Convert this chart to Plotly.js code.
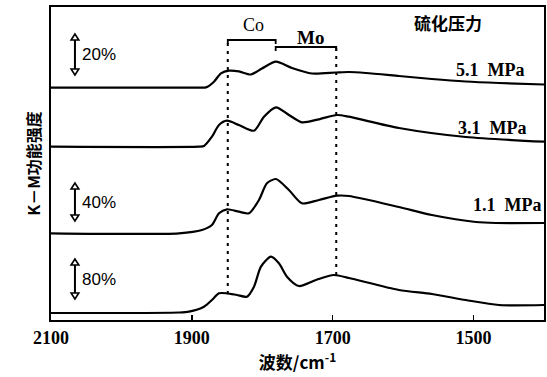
<!DOCTYPE html>
<html>
<head>
<meta charset="utf-8">
<script src="https://cdn.plot.ly/plotly-3.0.1.min.js"></script>
<style>html,body{margin:0;padding:0;background:#fff;}#chart{width:547px;height:377px;}</style>
</head>
<body>
<div id="chart"></div>
<script>
// Wavenumbers (cm^-1) and K-M intensities (arbitrary units, stacked)
const wn51 = [2100, 1890, 1880, 1868.6, 1858.7, 1847.3, 1833.1, 1816.1, 1800.5, 1780.6, 1757.9, 1729.5, 1695.4, 1677, 1652.9, 1606, 1559.2, 1511, 1464, 1400];
const km51 = [232.3, 232.3, 232.6, 238.3, 246.7, 249.3, 248.6, 245.5, 251.5, 258.3, 252, 246.5, 247.5, 248, 247, 244, 241, 238.5, 237, 235.5];

const wn31 = [2100, 1890, 1882.8, 1871.5, 1861.5, 1850.2, 1833.1, 1811.8, 1797.6, 1780.6, 1762.2, 1743.7, 1719.6, 1694, 1677, 1606, 1511, 1400];
const km31 = [173.3, 173.3, 174, 183.3, 195, 199.3, 195, 189.3, 203.3, 212.7, 205, 197.7, 200.7, 205, 203.3, 192, 183, 178.3];

const wn11 = [2100, 1918.3, 1885.7, 1871.5, 1861.5, 1850.2, 1833.1, 1818.9, 1804.7, 1793.4, 1780.6, 1762.2, 1743.7, 1719.6, 1694, 1677, 1606, 1559.2, 1496.7, 1468.3, 1400];
const km11 = [86.7, 86.7, 90, 95, 106.7, 110.7, 108.3, 106.7, 120, 136.7, 141, 130, 116.7, 120, 124.3, 124, 113, 105, 98, 97, 97];

const wn01 = [2100, 1918.3, 1904.1, 1882.8, 1871.5, 1861.5, 1850.2, 1836, 1821.8, 1811.8, 1801.9, 1787.7, 1776.4, 1765, 1748, 1723.8, 1698.3, 1677, 1606, 1559.2, 1511, 1464, 1400];
const km01 = [7, 7.5, 8.3, 13.3, 20, 26.7, 26.7, 25, 23.3, 33.3, 53.3, 63.3, 56.7, 43.3, 34, 40, 45, 42, 30, 26, 20, 15, 15];

const pressureLabels = ['5.1\u00a0\u00a0MPa', '3.1\u00a0\u00a0MPa', '1.1\u00a0\u00a0MPa', '0.1\u00a0\u00a0MPa'];
const tickValues = [2100, 1900, 1700, 1500];
const tickLabels = ['2100', '1900', '1700', '1500'];

// reference positions of the Co / Mo bands
const bandLines = [1849, 1695];
const bandLineTop = [280, 273];
const bandLineBottom = [26, 45];
const coBracket = [1849, 1781];
const moBracket = [1781, 1695];

// scale bars
const scaleX = 2066;
const scaleLabels = ['20%', '40%', '80%'];
const scaleTop = [286, 137, 61];
const scaleBottom = [245, 99, 21];

const lineStyle = {color: '#000', width: 2.2};
const traces = [
  {x: wn51, y: km51, name: pressureLabels[0]},
  {x: wn31, y: km31, name: pressureLabels[1]},
  {x: wn11, y: km11, name: pressureLabels[2]},
  {x: wn01, y: km01, name: pressureLabels[3]}
].map(t => Object.assign(t, {type: 'scatter', mode: 'lines', line: Object.assign({shape: 'spline', smoothing: 0.7}, lineStyle), hoverinfo: 'x+y+name'}));

const serif = 'Liberation Serif, Times New Roman, serif';
const cjk = 'Noto Sans CJK SC, sans-serif';

const shapes = [];
bandLines.forEach((x, i) => {
  shapes.push({type: 'line', xref: 'x', yref: 'y', x0: x, x1: x, y0: bandLineBottom[i], y1: bandLineTop[i], line: {color: '#000', width: 2, dash: '3px,5px'}});
});
function bracket(x0, x1, y) {
  shapes.push({type: 'path', xref: 'x', yref: 'y', path: `M ${x0} ${y - 4} L ${x0} ${y} L ${x1} ${y} L ${x1} ${y - 4}`, line: {color: '#000', width: 1.8}});
}
bracket(coBracket[0], coBracket[1], 280);
bracket(moBracket[0], moBracket[1], 273);

// double-headed scale arrows (hollow heads)
const hw = 5.5, hh = 6;
scaleTop.forEach((top, i) => {
  const bot = scaleBottom[i];
  shapes.push({type: 'line', xref: 'x', yref: 'y', x0: scaleX, x1: scaleX, y0: bot + hh, y1: top - hh, line: {color: '#000', width: 2}});
  shapes.push({type: 'path', xref: 'x', yref: 'y', path: `M ${scaleX} ${top} L ${scaleX + hw} ${top - hh} L ${scaleX - hw} ${top - hh} Z`, line: {color: '#000', width: 1.6}, fillcolor: '#fff'});
  shapes.push({type: 'path', xref: 'x', yref: 'y', path: `M ${scaleX} ${bot} L ${scaleX + hw} ${bot + hh} L ${scaleX - hw} ${bot + hh} Z`, line: {color: '#000', width: 1.6}, fillcolor: '#fff'});
});

const annotations = [];
const labelY = [250, 192, 115, 32];
const labelX = [1425, 1423, 1402, 1396];
pressureLabels.forEach((t, i) => {
  annotations.push({x: labelX[i], y: labelY[i], xref: 'x', yref: 'y', text: t, showarrow: false, xanchor: 'right', yanchor: 'middle', font: {family: serif, size: 18, color: '#000', weight: 'bold'}});
});
annotations.push({x: 1537, y: 298, xref: 'x', yref: 'y', text: '硫化压力', showarrow: false, xanchor: 'center', yanchor: 'middle', font: {family: cjk, size: 17, color: '#000', weight: 'bold'}});
annotations.push({x: 1812, y: 295, xref: 'x', yref: 'y', text: 'Co', showarrow: false, xanchor: 'center', yanchor: 'middle', font: {family: serif, size: 18, color: '#000'}});
annotations.push({x: 1732, y: 283, xref: 'x', yref: 'y', text: 'Mo', showarrow: false, xanchor: 'center', yanchor: 'middle', font: {family: serif, size: 19, color: '#000', weight: 'bold'}});
scaleLabels.forEach((t, i) => {
  annotations.push({x: 2059, y: (scaleTop[i] + scaleBottom[i]) / 2, xref: 'x', yref: 'y', text: t, showarrow: false, xanchor: 'left', yanchor: 'middle', font: {family: 'Liberation Sans, Arial, sans-serif', size: 17, color: '#000'}});
});

const layout = {
  width: 547, height: 377,
  margin: {l: 51, r: 3, t: 7, b: 57},
  paper_bgcolor: '#fff', plot_bgcolor: '#fff',
  showlegend: false,
  xaxis: {
    range: [2100, 1400], autorange: false,
    tickvals: tickValues, ticktext: tickLabels,
    ticks: 'inside', ticklen: 5, tickwidth: 1.5, tickcolor: '#000',
    showline: true, mirror: true, linewidth: 2.2, linecolor: '#000',
    showgrid: false, zeroline: false,
    tickfont: {family: serif, size: 18, color: '#000', weight: 'bold'},
    title: {text: '波数/cm<sup>-1</sup>', font: {family: cjk, size: 17, color: '#000', weight: 'bold'}, standoff: 8}
  },
  yaxis: {
    range: [0, 313], autorange: false,
    showticklabels: false, ticks: '',
    showline: true, mirror: true, linewidth: 2.2, linecolor: '#000',
    showgrid: false, zeroline: false,
    title: {text: 'K－M功能强度', font: {family: cjk, size: 16, color: '#000', weight: 'bold'}, standoff: 4}
  },
  shapes: shapes,
  annotations: annotations
};

Plotly.newPlot('chart', traces, layout, {staticPlot: true, displayModeBar: false});
</script>
</body>
</html>
